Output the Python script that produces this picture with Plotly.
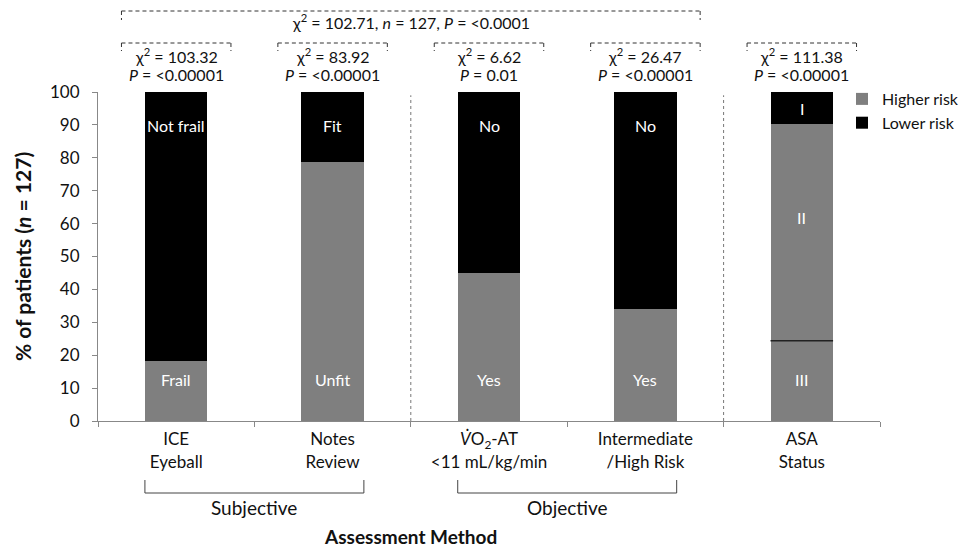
import plotly.graph_objects as go

# ---------------- data ----------------
categories = ["ICE<br>Eyeball", "Notes<br>Review",
              "<i>V̇</i>O<sub>2</sub>-AT<br>&lt;11 mL/kg/min",
              "Intermediate<br>/High Risk", "ASA<br>Status"]
higher_risk = [18.1, 78.7, 44.9, 33.9, 24.4]     # gray (ASA: class III)
higher_risk_asa_ii = [0, 0, 0, 0, 65.9]         # gray (ASA: class II)
lower_risk = [81.9, 21.3, 55.1, 66.1, 9.7]       # black (ASA: class I)
lower_labels = ["Frail", "Unfit", "Yes", "Yes", "III"]
upper_labels = ["Not frail", "Fit", "No", "No", "I"]
asa_mid_label = "II"
chi_sq = ["103.32", "83.92", "6.62", "26.47", "111.38"]
p_vals = ["&lt;0.00001", "&lt;0.00001", "0.01", "&lt;0.00001", "&lt;0.00001"]
overall_text = "χ<sup>2</sup> = 102.71, <i>n</i> = 127, <i>P</i> = &lt;0.0001"
groups = ["Subjective", "Objective"]

FONT = "Lato"
GRAY = "#7f7f7f"
TXT = "#111"

fig = go.Figure()
fig.add_bar(x=categories, y=higher_risk, name="Higher risk",
            marker=dict(color=GRAY, line=dict(width=0)), width=0.4)
fig.add_bar(x=categories, y=higher_risk_asa_ii, name="Higher risk", showlegend=False,
            marker=dict(color=GRAY, line=dict(width=0)), width=0.4)
fig.add_bar(x=categories, y=lower_risk, name="Lower risk",
            marker=dict(color="#000000", line=dict(width=0)), width=0.4)

# divider line between ASA III and II
fig.add_shape(type="line", xref="x", yref="y", x0=4 - 0.2, x1=4 + 0.2,
              y0=higher_risk[4], y1=higher_risk[4], line=dict(color="#222", width=1.5))

def A(**kw):
    d = dict(showarrow=False, xanchor="center", yanchor="middle")
    d.update(kw)
    return d

# segment labels
ann = []
for i in range(5):
    ann.append(A(x=i, y=12.5, xref="x", yref="y", text=lower_labels[i],
                 font=dict(family=FONT, size=16, color="white")))
    ytop = 95 if i == 4 else 89.8
    ann.append(A(x=i, y=ytop, xref="x", yref="y", text=upper_labels[i],
                 font=dict(family=FONT, size=16, color="white")))
ann.append(A(x=4, y=higher_risk[4] + higher_risk_asa_ii[4] * 0.57, xref="x", yref="y",
             text=asa_mid_label, font=dict(family=FONT, size=16, color="white")))

# screen-pixel -> paper helper (plot area spans 92..421 px on screen)
PLOT_TOP, PLOT_BOT = 92, 421
def py(pix):
    return (PLOT_BOT - pix) / (PLOT_BOT - PLOT_TOP)

dash_line = dict(color="#333", width=1, dash="4px,3px")

def bracket(x0, x1, y_end, y_bar, line):
    fig.add_shape(type="line", xref="x", yref="paper", x0=x0, x1=x0, y0=py(y_bar), y1=py(y_end), line=line)
    fig.add_shape(type="line", xref="x", yref="paper", x0=x1, x1=x1, y0=py(y_bar), y1=py(y_end), line=line)
    fig.add_shape(type="line", xref="x", yref="paper", x0=x0, x1=x1, y0=py(y_bar), y1=py(y_bar), line=line)

# per-category chi-square brackets
for i in range(5):
    bracket(i - 0.35, i + 0.35, 51, 43, dash_line)
    ann.append(A(x=i, y=py(55), xref="x", yref="paper",
                 text=f"χ<sup>2</sup> = {chi_sq[i]}", font=dict(family=FONT, size=16, color=TXT)))
    ann.append(A(x=i, y=py(74), xref="x", yref="paper",
                 text=f"<i>P</i> = {p_vals[i]}", font=dict(family=FONT, size=16, color=TXT)))

# overall bracket
bracket(-0.35, 3.35, 20, 11, dash_line)
ann.append(A(x=1.5, y=py(21), xref="x", yref="paper", text=overall_text,
             font=dict(family=FONT, size=16, color=TXT)))

# vertical dotted separators
for xs in (1.5, 3.5):
    fig.add_shape(type="line", xref="x", yref="paper", x0=xs, x1=xs, y0=0, y1=0.99,
                  line=dict(color="#777", width=1, dash="dot"))

# group brackets below axis
for g, (c0, c1) in zip(groups, [(0, 1), (2, 3)]):
    bracket(c0 - 0.2, c1 + 0.2, 480, 493, dict(color="#444", width=1))
    ann.append(A(x=(c0 + c1) / 2, y=py(507), xref="x", yref="paper", text=g,
                 font=dict(family=FONT, size=19, color=TXT)))

ann.append(A(x=1.5, y=py(536), xref="x", yref="paper",
             text="<b>Assessment Method</b>", font=dict(family=FONT, size=19, color=TXT)))
ann.append(A(x=(22 - 98) / 782, y=py(257), xref="paper", yref="paper", textangle=-90,
             text="<b>% of patients (<i>n</i> = 127)</b>", font=dict(family=FONT, size=21, color=TXT)))

# page body has an 8 px default margin, so shift the figure up/left by 8 px
OFF = 8
W, H = 973, 547
fig.update_layout(
    barmode="stack",
    width=W, height=H,
    margin=dict(l=98 - OFF, r=W - 880 + OFF, t=92 - OFF, b=H - 421 + OFF, autoexpand=False),
    plot_bgcolor="white", paper_bgcolor="white",
    font=dict(family=FONT, size=16, color=TXT),
    annotations=ann,
    legend=dict(xref="container", yref="container",
                x=(842 - OFF) / W, y=1 - (82 - OFF) / H, xanchor="left", yanchor="top",
                traceorder="normal", font=dict(family=FONT, size=16, color=TXT),
                bgcolor="rgba(0,0,0,0)", itemwidth=30, tracegroupgap=0),
    showlegend=True,
)
fig.update_xaxes(type="category", showline=True, linecolor="#888", linewidth=1,
                 ticks="outside", tickson="boundaries", ticklen=5, tickcolor="#888",
                 ticklabelstandoff=3,
                 tickfont=dict(family=FONT, size=17, color=TXT), showgrid=False, zeroline=False,
                 range=[-0.5, 4.5])
fig.update_yaxes(range=[0, 100], dtick=10, showline=True, linecolor="#888", linewidth=1,
                 ticks="outside", ticklen=5, tickcolor="#888", showgrid=False, zeroline=False,
                 ticklabelstandoff=9,
                 tickfont=dict(family=FONT, size=17, color=TXT))

fig.write_html("out.html")
